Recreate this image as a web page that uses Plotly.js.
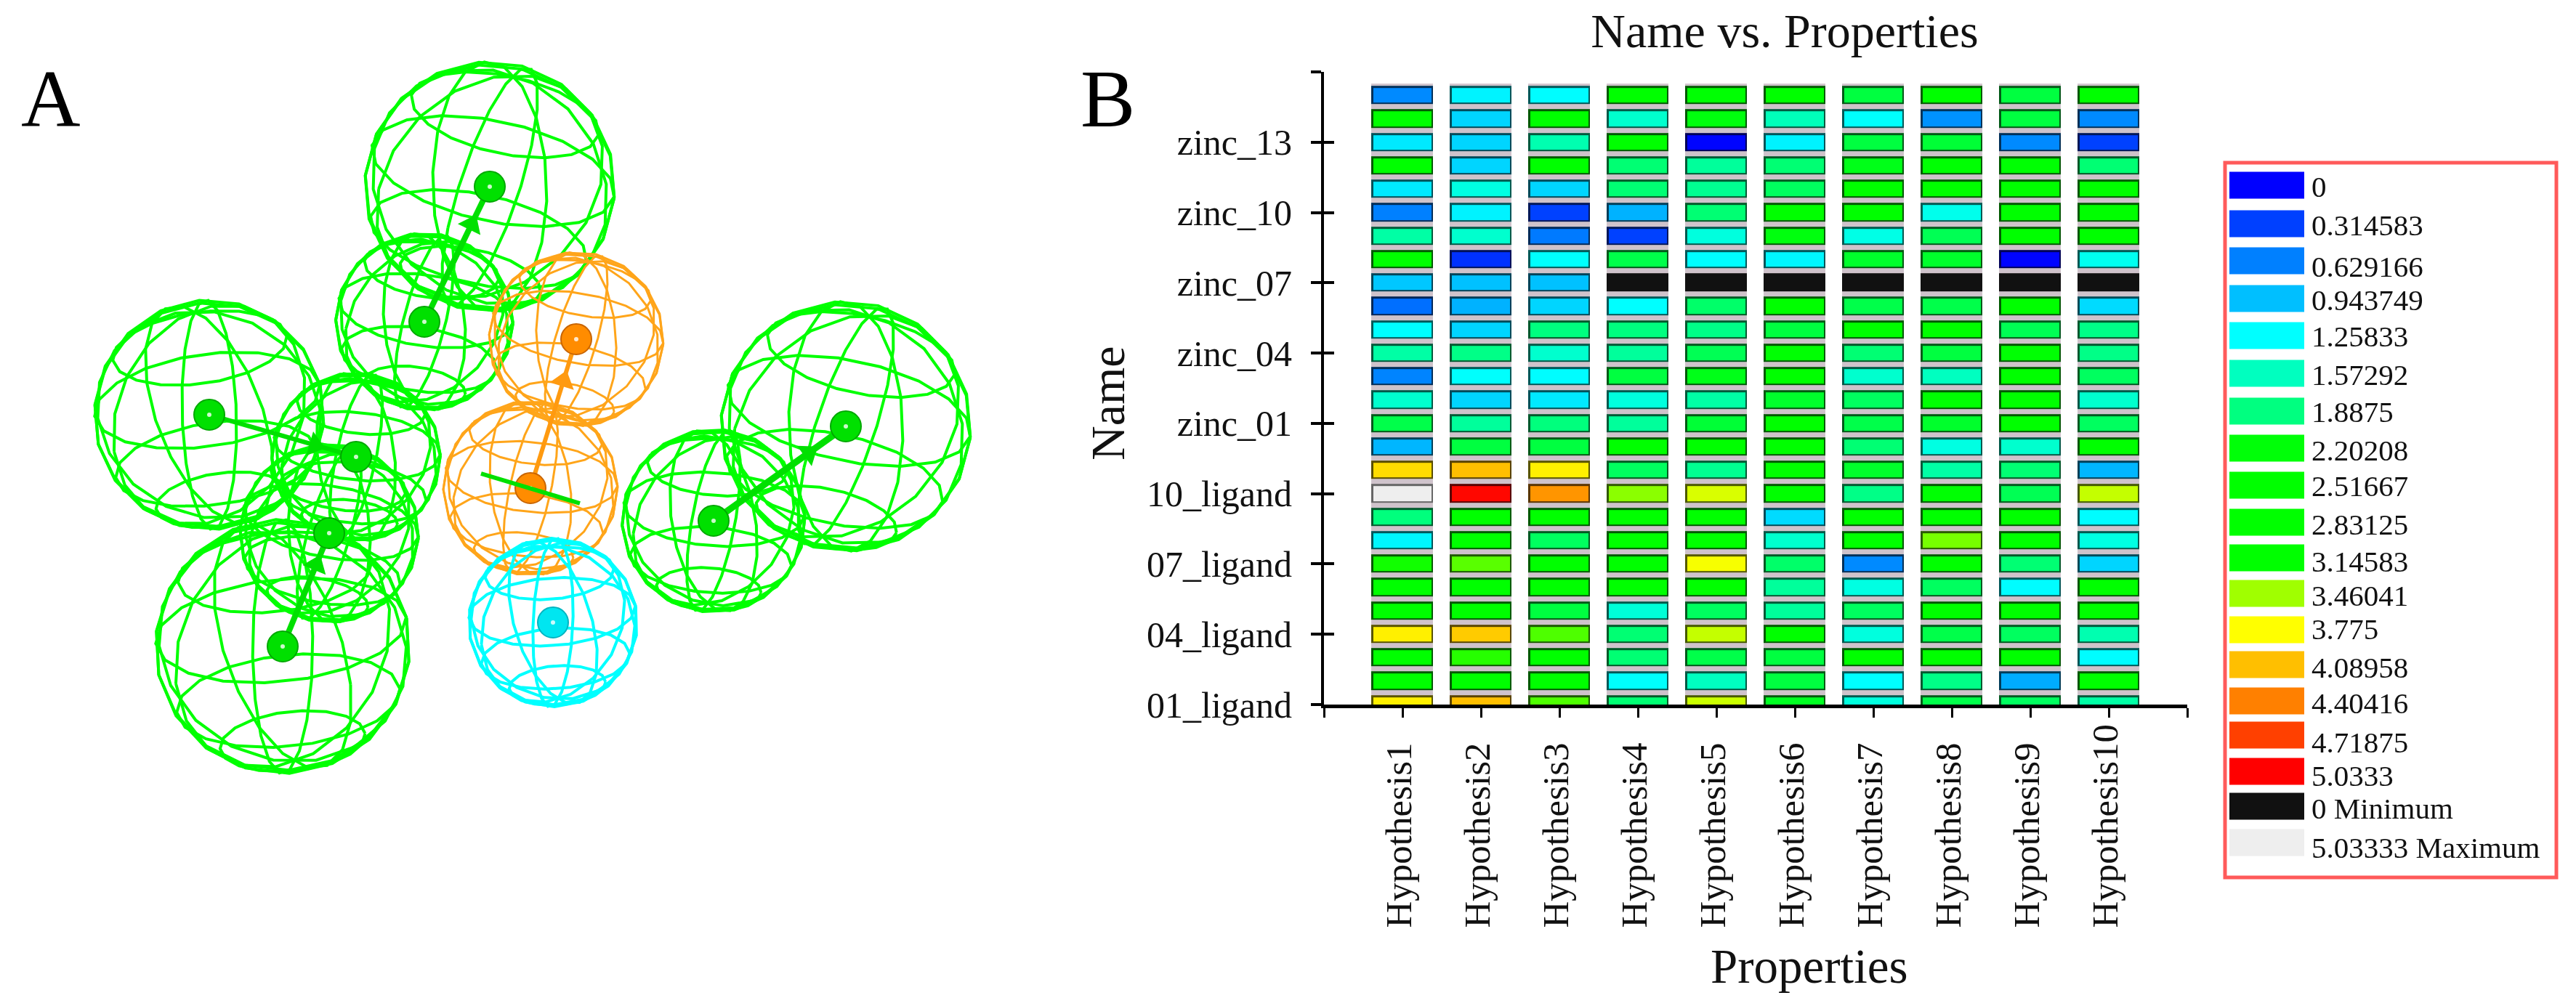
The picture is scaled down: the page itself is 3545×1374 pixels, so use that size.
<!DOCTYPE html>
<html><head><meta charset="utf-8">
<script src="https://cdn.plot.ly/plotly-3.0.1.min.js"></script>
<style>html,body{margin:0;padding:0;background:#fff}#c{width:3545px;height:1374px;filter:blur(0.7px)}</style>
</head><body><div id="c"></div>
<script>
const W = 3545, H = 1374, SERIF = '"Liberation Serif","Times New Roman",serif';

// ---- Panel B data ----
const hypotheses = ['Hypothesis1','Hypothesis2','Hypothesis3','Hypothesis4','Hypothesis5','Hypothesis6','Hypothesis7','Hypothesis8','Hypothesis9','Hypothesis10'];
const hypothesisPositions = [1,2,3,4,5,6,7,8,9,10];
const nameTickPositions = [0,3,6,9,12,15,18,21,24,27];
const nameTickLabels = ['01_ligand','04_ligand','07_ligand','10_ligand','zinc_01','zinc_04','zinc_07','zinc_10','zinc_13',''];
const namePositions = [26,25,24,23,22,21,20,19,18,17,16,15,14,13,12,11,10,9,8,7,6,5,4,3,2,1,0];
const MIN_VALUE = 0, MAX_VALUE = 5.03333;
// rows listed from the top of the chart to the bottom, columns Hypothesis1..10
const scores = [
 [0.68,1.20,1.25,2.55,2.50,2.55,2.20,2.55,2.20,2.55],
 [2.60,1.05,2.60,1.50,2.45,1.60,1.27,0.72,2.20,0.68],
 [1.15,1.05,1.65,2.60,0.02,1.20,2.20,2.25,0.68,0.32],
 [2.55,1.05,2.55,1.95,1.75,1.95,2.40,2.50,2.50,1.95],
 [1.15,1.40,1.05,1.95,1.80,2.05,2.60,2.60,2.60,2.60],
 [0.63,1.20,0.32,0.88,1.95,2.60,2.60,1.35,2.60,2.60],
 [1.70,1.50,0.60,0.32,1.42,2.45,1.38,2.10,2.60,2.60],
 [2.60,0.24,1.27,2.15,1.25,1.22,2.30,2.30,0.02,1.33],
 [0.98,0.95,0.95,0,0,0,0,0,0,0],
 [0.55,0.88,1.05,1.26,2.00,2.60,2.15,2.15,2.55,1.08],
 [1.26,1.05,1.89,1.89,1.85,2.20,2.55,2.55,2.10,1.85],
 [1.70,1.85,1.50,1.75,2.10,2.50,1.95,2.20,2.50,1.85],
 [0.65,1.27,1.25,2.20,2.40,2.55,1.50,1.57,2.55,2.05],
 [1.50,1.05,1.15,1.42,1.70,2.30,2.05,2.50,2.55,1.50],
 [2.15,1.75,1.90,1.75,2.25,2.55,2.15,2.30,2.55,2.05],
 [0.90,2.20,2.20,2.55,2.55,2.60,1.95,1.40,1.50,2.60],
 [3.95,4.09,3.85,2.05,1.80,2.55,2.30,1.70,1.95,0.90],
 [5.03333,5.00,4.30,3.42,3.65,2.55,1.85,2.50,2.10,3.58],
 [1.90,2.60,2.60,2.60,2.60,1.08,2.60,2.60,2.60,1.25],
 [1.22,2.55,2.05,2.55,2.55,1.50,2.55,3.38,2.55,1.40],
 [3.18,3.32,2.60,2.60,3.75,2.00,0.68,2.60,1.95,1.05],
 [2.60,2.60,2.60,2.60,2.60,1.75,1.40,2.05,1.25,2.60],
 [2.60,2.60,2.20,1.45,2.05,1.75,2.05,2.55,2.55,2.55],
 [3.85,4.03,3.30,1.95,3.58,2.55,1.42,2.15,2.05,1.65],
 [2.60,3.22,2.60,1.95,2.15,2.20,2.55,2.55,2.55,1.25],
 [2.60,2.60,2.60,1.27,1.57,2.20,1.26,1.85,0.85,2.60],
 [3.85,4.09,3.30,1.95,3.60,2.35,1.42,2.15,2.05,1.70]
];
// legend
const legendLabels = ['0','0.314583','0.629166','0.943749','1.25833','1.57292','1.8875','2.20208','2.51667','2.83125','3.14583','3.46041','3.775','4.08958','4.40416','4.71875','5.0333','0 Minimum','5.03333 Maximum'];
const legendColors = ['#0000ff','#0040ff','#0080ff','#00bfff','#00ffff','#00ffbf','#00ff80','#00ff08','#00ff00','#00ff00','#00ff00','#a0ff00','#ffff00','#ffbf00','#ff8000','#ff4000','#ff0000','#111111','#eeeeee'];
const legendCentersPx = [255,308,359,411,462,514,566,617,668,719,768,817,867,915,965,1012,1062,1110,1160];
const legendTextPx = [257,310,367,413,463,516,567,620,669,722,773,820,866,919,968,1022,1068,1113,1167];
// colour ramp anchors
const rampValues = [0,1.25833,2.51667,3.14583,3.46041,3.775,5.0333];
const rampColors = ['#0000ff','#00ffff','#00ff00','#00ff00','#a0ff00','#ffff00','#ff0000'];

// ---- Panel A data (positions on the picture) ----
const sphereX = [674,584,288,490,453,389,793,730,761,1164,982];
const sphereY = [257,443,571,629,734,890,467,672,857,587,717];
const sphereR = [172,122,158,116,123,175,120,120,116,172,126];
const sphereRoll = [12,8,-8,6,10,-6,10,6,-4,12,4];
const sphereColor = ['#00ff00','#00ff00','#00ff00','#00ff00','#00ff00','#00ff00','#ffa51a','#ffa51a','#00ffff','#00ff00','#00ff00'];
const sphereWidth = [4,4,4,4,4,4,3,3,4,4,4];
const ballColor = ['#00e000','#00e000','#00e000','#00e000','#00e000','#00e000','#ff8c00','#ff8c00','#00e6f0','#00e000','#00e000'];
const ballEdge = ['#00a800','#00a800','#00a800','#00a800','#00a800','#00a800','#c86400','#c86400','#00b4c0','#00a800','#00a800'];
const vectorFrom = [1,2,5,7,10];
const vectorTo = [0,3,4,6,9];
const vectorColor = ['#00e000','#00e000','#00e000','#ff9a10','#00e000'];
const vectorWidth = [8,6,8,6,9];
const stickX = [662,798], stickY = [652,693];

// ---- helpers ----
const px = x => x / W, py = y => 1 - y / H;
function hex(c){return [1,3,5].map(i=>parseInt(c.substr(i,2),16));}
const Z0 = -0.5, Z1 = 5.6, zn = v => (v - Z0) / (Z1 - Z0);
function displayZ(v){ return v === MIN_VALUE ? -0.4 : v === MAX_VALUE ? 5.5 : v; }
function scale(f, minCol, maxCol){
  const cs = [[0,minCol],[zn(-0.02),minCol]];
  rampValues.forEach((v,i)=>{
    const c = hex(rampColors[i]).map(k=>Math.round(k*f));
    cs.push([zn(v),`rgb(${c})`]);
  });
  cs.push([zn(5.2),`rgb(${Math.round(255*f)},0,0)`],[zn(5.21),maxCol],[1,maxCol]);
  return cs;
}
function wire(i){
  const xs=[], ys=[], r=sphereR[i], cx=sphereX[i], cy=sphereY[i];
  const roll=sphereRoll[i]*Math.PI/180, tilt=24*Math.PI/180;
  const put=(a,b,c,tl)=>{
    const y1=b*Math.cos(tl)-c*Math.sin(tl);
    const x2=a*Math.cos(roll)+y1*Math.sin(roll), y2=-a*Math.sin(roll)+y1*Math.cos(roll);
    xs.push(cx+r*x2); ys.push(cy-r*y2);
  };
  const D=Math.PI/180;
  [15,60,105,150].forEach(lon=>{ for(let t=0;t<=360;t+=20){
      const cl=Math.cos(t*D), sl=Math.sin(t*D);
      put(cl*Math.cos(lon*D), sl, cl*Math.sin(lon*D), tilt);
    } xs.push(null); ys.push(null); });
  [-55,-28,8,40].forEach(lat=>{ for(let t=0;t<=360;t+=20){
      const cl=Math.cos(lat*D);
      put(cl*Math.cos(t*D), Math.sin(lat*D), cl*Math.sin(t*D), tilt);
    } xs.push(null); ys.push(null); });
  [0,0.22].forEach(off=>{ for(let t=7;t<=367;t+=20){
      put(Math.cos(t*D), Math.sin(t*D)*Math.cos(off), Math.sin(t*D)*Math.sin(off), 0);
    } xs.push(null); ys.push(null); });
  return {type:'scatter',mode:'lines',x:xs,y:ys,xaxis:'x3',yaxis:'y3',
    line:{color:sphereColor[i],width:sphereWidth[i]},hoverinfo:'skip',showlegend:false};
}

// ---- traces ----
const zDisplay = scores.map(r=>r.map(displayZ));
const haloZ = scores.map(r=>r.map(()=>1));
const traces = [];
traces.push({type:'heatmap',x:hypothesisPositions,y:namePositions,z:haloZ,xaxis:'x',yaxis:'y',
  xgap:23,ygap:0,zmin:0,zmax:1,colorscale:[[0,'#cfc3cb'],[1,'#cfc3cb']],showscale:false,hoverinfo:'skip'});
traces.push({type:'heatmap',x:hypothesisPositions,y:namePositions,z:zDisplay,xaxis:'x',yaxis:'y2',
  xgap:23,ygap:7,zmin:Z0,zmax:Z1,colorscale:scale(0.35,'#111111','#666666'),showscale:false,hoverinfo:'skip'});
traces.push({type:'heatmap',x:hypothesisPositions,y:namePositions,z:zDisplay,xaxis:'x',yaxis:'y2',
  xgap:28,ygap:12,zmin:Z0,zmax:Z1,colorscale:scale(1,'#111111','#eeeeee'),showscale:false,name:'score'});

sphereX.forEach((_,i)=>traces.push(wire(i)));
vectorFrom.forEach((a,k)=>{
  const b=vectorTo[k], x0=sphereX[a], y0=sphereY[a], x1=sphereX[b], y1=sphereY[b];
  traces.push({type:'scatter',mode:'lines',x:[x0,x1],y:[y0,y1],xaxis:'x3',yaxis:'y3',
    line:{color:vectorColor[k],width:vectorWidth[k]},hoverinfo:'skip',showlegend:false});
  const ang=Math.atan2(x1-x0,-(y1-y0))*180/Math.PI;
  traces.push({type:'scatter',mode:'markers',x:[x0+(x1-x0)*0.72],y:[y0+(y1-y0)*0.72],xaxis:'x3',yaxis:'y3',
    marker:{symbol:'triangle-up',size:30,color:vectorColor[k],angle:ang,line:{width:0}},hoverinfo:'skip',showlegend:false});
});
traces.push({type:'scatter',mode:'markers',x:sphereX,y:sphereY,xaxis:'x3',yaxis:'y3',
  marker:{size:42,color:ballColor,line:{color:ballEdge,width:2}},hoverinfo:'skip',showlegend:false});
traces.push({type:'scatter',mode:'markers',x:sphereX,y:sphereY,xaxis:'x3',yaxis:'y3',
  marker:{size:6,color:'#ffffff',opacity:.8},hoverinfo:'skip',showlegend:false});
traces.push({type:'scatter',mode:'lines',x:stickX,y:stickY,xaxis:'x3',yaxis:'y3',
  line:{color:'#00e000',width:6},hoverinfo:'skip',showlegend:false});

// ---- legend shapes & annotations ----
const shapes = [{type:'rect',xref:'paper',yref:'paper',x0:px(3062),x1:px(3518),y0:py(224),y1:py(1208),
  line:{color:'#ff5a5a',width:5},fillcolor:'rgba(0,0,0,0)'}];
const annotations = [];
legendLabels.forEach((t,i)=>{
  const c=legendCentersPx[i];
  shapes.push({type:'rect',xref:'paper',yref:'paper',x0:px(3068),x1:px(3171),y0:py(c-18.5),y1:py(c+18.5),
    line:{width:0},fillcolor:legendColors[i]});
  annotations.push({xref:'paper',yref:'paper',x:px(3179),y:py(legendTextPx[i]),xanchor:'left',yanchor:'middle',showarrow:false,
    text:t,font:{family:SERIF,size:41,color:'#111'}});
});
hypotheses.forEach((t,i)=>annotations.push({xref:'x',yref:'paper',x:hypothesisPositions[i],xshift:-6,y:py(1280),
  xanchor:'center',yanchor:'bottom',textangle:-90,showarrow:false,text:t,font:{family:SERIF,size:51,color:'#111'}}));
[['A',70,136],['B',1524,136]].forEach(a=>annotations.push({xref:'paper',yref:'paper',x:px(a[1]),y:py(a[2]),
  xanchor:'center',yanchor:'middle',showarrow:false,text:a[0],font:{family:SERIF,size:113,color:'#000'}}));
annotations.push({xref:'paper',yref:'paper',x:px(2490),y:py(1330),xanchor:'center',yanchor:'middle',showarrow:false,
  text:'Properties',font:{family:SERIF,size:67,color:'#111'}});
annotations.push({xref:'paper',yref:'paper',x:px(1524),y:py(555),xanchor:'center',yanchor:'middle',textangle:-90,showarrow:false,
  text:'Name',font:{family:SERIF,size:66,color:'#111'}});

const yCommon = {domain:[py(970),py(99)],range:[0,27],tickmode:'array',tickvals:nameTickPositions,
  showgrid:false,zeroline:false,showline:true,linecolor:'#000',linewidth:4,tickcolor:'#000',tickwidth:4,ticklen:14,anchor:'x'};
const layout = {
  width:W,height:H,margin:{l:0,r:0,t:0,b:0},paper_bgcolor:'#fff',plot_bgcolor:'rgba(0,0,0,0)',showlegend:false,
  title:{text:'Name vs. Properties',font:{family:SERIF,size:66,color:'#111'},x:2456/W,xanchor:'center',xref:'paper',
         y:1-42/H,yanchor:'middle',yref:'paper'},
  xaxis:{domain:[px(1822),px(3010)],range:[0,11],tickmode:'array',tickvals:[0,1,2,3,4,5,6,7,8,9,10,11],ticktext:Array(12).fill(''),
    showgrid:false,zeroline:false,showline:true,linecolor:'#000',linewidth:5,ticks:'outside',ticklen:13,tickwidth:3,tickcolor:'#000',anchor:'y'},
  yaxis:Object.assign({},yCommon,{ticks:'outside',ticktext:nameTickLabels,ticklabelstandoff:16,
    tickfont:{family:SERIF,size:50,color:'#111'}}),
  yaxis2:Object.assign({},yCommon,{overlaying:'y',side:'left',ticks:'inside',showticklabels:false}),
  xaxis3:{domain:[0,1400/W],range:[0,1400],visible:false,fixedrange:true,anchor:'y3'},
  yaxis3:{domain:[0,1],range:[H,0],visible:false,fixedrange:true,anchor:'x3'},
  shapes,annotations
};
Plotly.newPlot('c',traces,layout,{staticPlot:true,displayModeBar:false});
</script></body></html>
